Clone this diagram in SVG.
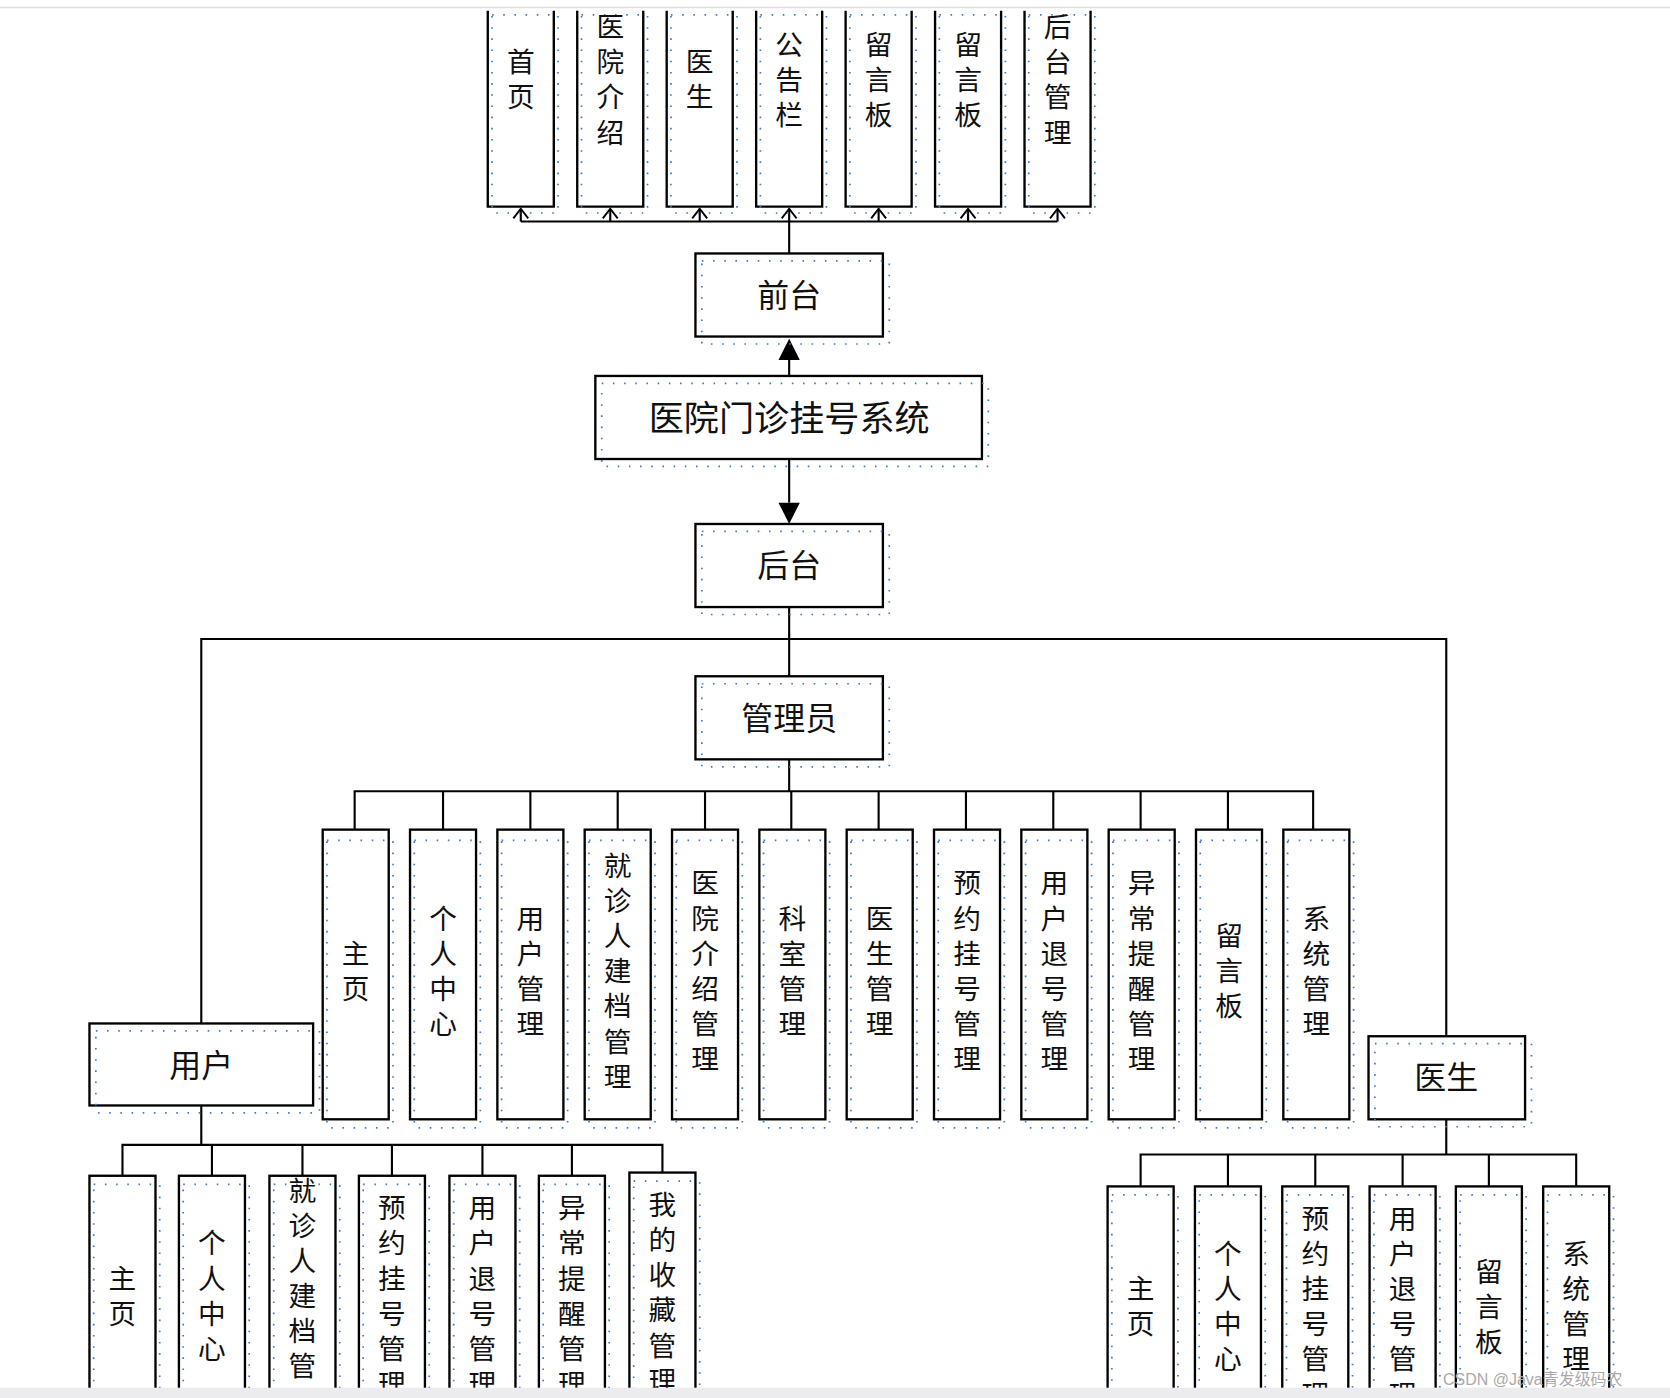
<svg xmlns="http://www.w3.org/2000/svg" width="1670" height="1398" viewBox="0 0 1670 1398">
<style>
.b{fill:#fff;stroke:#000;stroke-width:2.2}
.d{fill:none;stroke:#3a7bd5;stroke-width:1.6;stroke-dasharray:1.5 9}
.t{font-family:"Noto Sans CJK SC",sans-serif;font-size:30px;fill:#111}
.v{font-family:"Noto Sans CJK SC",sans-serif;font-size:26px;fill:#111;writing-mode:vertical-rl;text-anchor:middle;letter-spacing:7px}
.c{fill:none;stroke:#000;stroke-width:2}
</style>
<defs>
<marker id="open" markerWidth="12" markerHeight="16" refX="10" refY="8" orient="auto" markerUnits="userSpaceOnUse" viewBox="0 0 12 16"><path d="M1,1 L10,8 L1,15" fill="none" stroke="#000" stroke-width="1.8"/></marker>
</defs>
<rect width="1670" height="1398" fill="#fff"/>
<g transform="scale(1.065)">
<line x1="0" y1="7" x2="1568" y2="7" stroke="#ddd" stroke-width="1.5"/>
<g id="connectors">
<path class="c" d="M489,208 H993"/>
<path class="c" d="M489,208 V196" marker-end="url(#open)"/>
<path class="c" d="M573,208 V196" marker-end="url(#open)"/>
<path class="c" d="M657,208 V196" marker-end="url(#open)"/>
<path class="c" d="M741,238 V196" marker-end="url(#open)"/>
<path class="c" d="M825,208 V196" marker-end="url(#open)"/>
<path class="c" d="M909,208 V196" marker-end="url(#open)"/>
<path class="c" d="M993,208 V196" marker-end="url(#open)"/>
<line class="c" x1="741" y1="353" x2="741" y2="338"/>
<path d="M731,338 L751,338 L741,318 Z"/>
<line class="c" x1="741" y1="431" x2="741" y2="472"/>
<path d="M731,472 L751,472 L741,492 Z"/>
<path class="c" d="M741,570 V635 M189,961 V600 H1358 V973"/>
<path class="c" d="M741,713 V743 M333,779 V743 H1233 V779 M416,743 V779 M498,743 V779 M580,743 V779 M662,743 V779 M743,743 V779 M825,743 V779 M907,743 V779 M989,743 V779 M1071,743 V779 M1153,743 V779"/>
<path class="c" d="M189,1038 V1075 M115,1104 V1075 H622 V1101 M199,1075 V1104 M284,1075 V1104 M368,1075 V1104 M453,1075 V1104 M537,1075 V1104"/>
<path class="c" d="M1358,1051 V1084 M1071,1114 V1084 H1480 V1114 M1153,1084 V1114 M1235,1084 V1114 M1317,1084 V1114 M1398,1084 V1114"/>
</g>
<g id="top">
<g id="f1"><path class="b" d="M458,10 V194 H520 V10"/><rect class="d" x="462" y="14" width="62" height="186"/><text class="v" x="489" y="78">首页</text></g>
<g id="f2"><path class="b" d="M542,10 V194 H604 V10"/><rect class="d" x="546" y="14" width="62" height="186"/><text class="v" x="573" y="78">医院介绍</text></g>
<g id="f3"><path class="b" d="M626,10 V194 H688 V10"/><rect class="d" x="630" y="14" width="62" height="186"/><text class="v" x="657" y="78">医生</text></g>
<g id="f4"><path class="b" d="M710,10 V194 H772 V10"/><rect class="d" x="714" y="14" width="62" height="186"/><text class="v" x="741" y="78">公告栏</text></g>
<g id="f5"><path class="b" d="M794,10 V194 H856 V10"/><rect class="d" x="798" y="14" width="62" height="186"/><text class="v" x="825" y="78">留言板</text></g>
<g id="f6"><path class="b" d="M878,10 V194 H940 V10"/><rect class="d" x="882" y="14" width="62" height="186"/><text class="v" x="909" y="78">留言板</text></g>
<g id="f7"><path class="b" d="M962,10 V194 H1024 V10"/><rect class="d" x="966" y="14" width="62" height="186"/><text class="v" x="993" y="78">后台管理</text></g>
</g>
<g id="qiantai"><rect class="b" x="653" y="238" width="176" height="78"/><rect class="d" x="659" y="245" width="176" height="78"/><text class="t" x="741" y="288" text-anchor="middle">前台</text></g>
<g id="system"><rect class="b" x="559" y="353" width="363" height="78"/><rect class="d" x="565" y="360" width="363" height="78"/><text class="t" x="741" y="405" text-anchor="middle" style="font-size:33px">医院门诊挂号系统</text></g>
<g id="houtai"><rect class="b" x="653" y="492" width="176" height="78"/><rect class="d" x="659" y="499" width="176" height="78"/><text class="t" x="741" y="542" text-anchor="middle">后台</text></g>
<g id="admin"><rect class="b" x="653" y="635" width="176" height="78"/><rect class="d" x="659" y="642" width="176" height="78"/><text class="t" x="741" y="685" text-anchor="middle">管理员</text></g>
<g id="adminItems">
<g><rect class="b" x="303" y="779" width="62" height="272"/><rect class="d" x="307" y="789" width="62" height="270"/><text class="v" x="334" y="915">主页</text></g>
<g><rect class="b" x="385" y="779" width="62" height="272"/><rect class="d" x="389" y="789" width="62" height="270"/><text class="v" x="416" y="915">个人中心</text></g>
<g><rect class="b" x="467" y="779" width="62" height="272"/><rect class="d" x="471" y="789" width="62" height="270"/><text class="v" x="498" y="915">用户管理</text></g>
<g><rect class="b" x="549" y="779" width="62" height="272"/><rect class="d" x="553" y="789" width="62" height="270"/><text class="v" x="580" y="915">就诊人建档管理</text></g>
<g><rect class="b" x="631" y="779" width="62" height="272"/><rect class="d" x="635" y="789" width="62" height="270"/><text class="v" x="662" y="915">医院介绍管理</text></g>
<g><rect class="b" x="713" y="779" width="62" height="272"/><rect class="d" x="717" y="789" width="62" height="270"/><text class="v" x="744" y="915">科室管理</text></g>
<g><rect class="b" x="795" y="779" width="62" height="272"/><rect class="d" x="799" y="789" width="62" height="270"/><text class="v" x="826" y="915">医生管理</text></g>
<g><rect class="b" x="877" y="779" width="62" height="272"/><rect class="d" x="881" y="789" width="62" height="270"/><text class="v" x="908" y="915">预约挂号管理</text></g>
<g><rect class="b" x="959" y="779" width="62" height="272"/><rect class="d" x="963" y="789" width="62" height="270"/><text class="v" x="990" y="915">用户退号管理</text></g>
<g><rect class="b" x="1041" y="779" width="62" height="272"/><rect class="d" x="1045" y="789" width="62" height="270"/><text class="v" x="1072" y="915">异常提醒管理</text></g>
<g><rect class="b" x="1123" y="779" width="62" height="272"/><rect class="d" x="1127" y="789" width="62" height="270"/><text class="v" x="1154" y="915">留言板</text></g>
<g><rect class="b" x="1205" y="779" width="62" height="272"/><rect class="d" x="1209" y="789" width="62" height="270"/><text class="v" x="1236" y="915">系统管理</text></g>
</g>
<g id="user"><rect class="b" x="84" y="961" width="210" height="77"/><rect class="d" x="90" y="968" width="210" height="77"/><text class="t" x="189" y="1011" text-anchor="middle">用户</text></g>
<g id="doctor"><rect class="b" x="1285" y="973" width="147" height="78"/><rect class="d" x="1291" y="980" width="147" height="78"/><text class="t" x="1358" y="1023" text-anchor="middle">医生</text></g>
<g id="userItems">
<g><rect class="b" x="84" y="1104" width="62" height="230"/><rect class="d" x="88" y="1112" width="62" height="230"/><text class="v" x="115" y="1220">主页</text></g>
<g><rect class="b" x="168" y="1104" width="62" height="230"/><rect class="d" x="172" y="1112" width="62" height="230"/><text class="v" x="199" y="1220">个人中心</text></g>
<g><rect class="b" x="253" y="1104" width="62" height="230"/><rect class="d" x="257" y="1112" width="62" height="230"/><text class="v" x="284" y="1220">就诊人建档管理</text></g>
<g><rect class="b" x="337" y="1104" width="62" height="230"/><rect class="d" x="341" y="1112" width="62" height="230"/><text class="v" x="368" y="1220">预约挂号管理</text></g>
<g><rect class="b" x="422" y="1104" width="62" height="230"/><rect class="d" x="426" y="1112" width="62" height="230"/><text class="v" x="453" y="1220">用户退号管理</text></g>
<g><rect class="b" x="506" y="1104" width="62" height="230"/><rect class="d" x="510" y="1112" width="62" height="230"/><text class="v" x="537" y="1220">异常提醒管理</text></g>
<g><rect class="b" x="591" y="1101" width="62" height="230"/><rect class="d" x="595" y="1109" width="62" height="230"/><text class="v" x="622" y="1217">我的收藏管理</text></g>
</g>
<g id="doctorItems">
<g><rect class="b" x="1040" y="1114" width="62" height="230"/><rect class="d" x="1044" y="1122" width="62" height="230"/><text class="v" x="1071" y="1230">主页</text></g>
<g><rect class="b" x="1122" y="1114" width="62" height="230"/><rect class="d" x="1126" y="1122" width="62" height="230"/><text class="v" x="1153" y="1230">个人中心</text></g>
<g><rect class="b" x="1204" y="1114" width="62" height="230"/><rect class="d" x="1208" y="1122" width="62" height="230"/><text class="v" x="1235" y="1230">预约挂号管理</text></g>
<g><rect class="b" x="1286" y="1114" width="62" height="230"/><rect class="d" x="1290" y="1122" width="62" height="230"/><text class="v" x="1317" y="1230">用户退号管理</text></g>
<g><rect class="b" x="1367" y="1114" width="62" height="230"/><rect class="d" x="1371" y="1122" width="62" height="230"/><text class="v" x="1398" y="1230">留言板</text></g>
<g><rect class="b" x="1449" y="1114" width="62" height="230"/><rect class="d" x="1453" y="1122" width="62" height="230"/><text class="v" x="1480" y="1230">系统管理</text></g>
</g>
<rect x="0" y="1303" width="1568" height="20" fill="#ececef"/>
<text x="1355" y="1300" style="font-family:'Liberation Sans','Noto Sans CJK SC',sans-serif;font-size:15px;fill:#aaa">CSDN @Java青发级码农</text>
</g>
</svg>
